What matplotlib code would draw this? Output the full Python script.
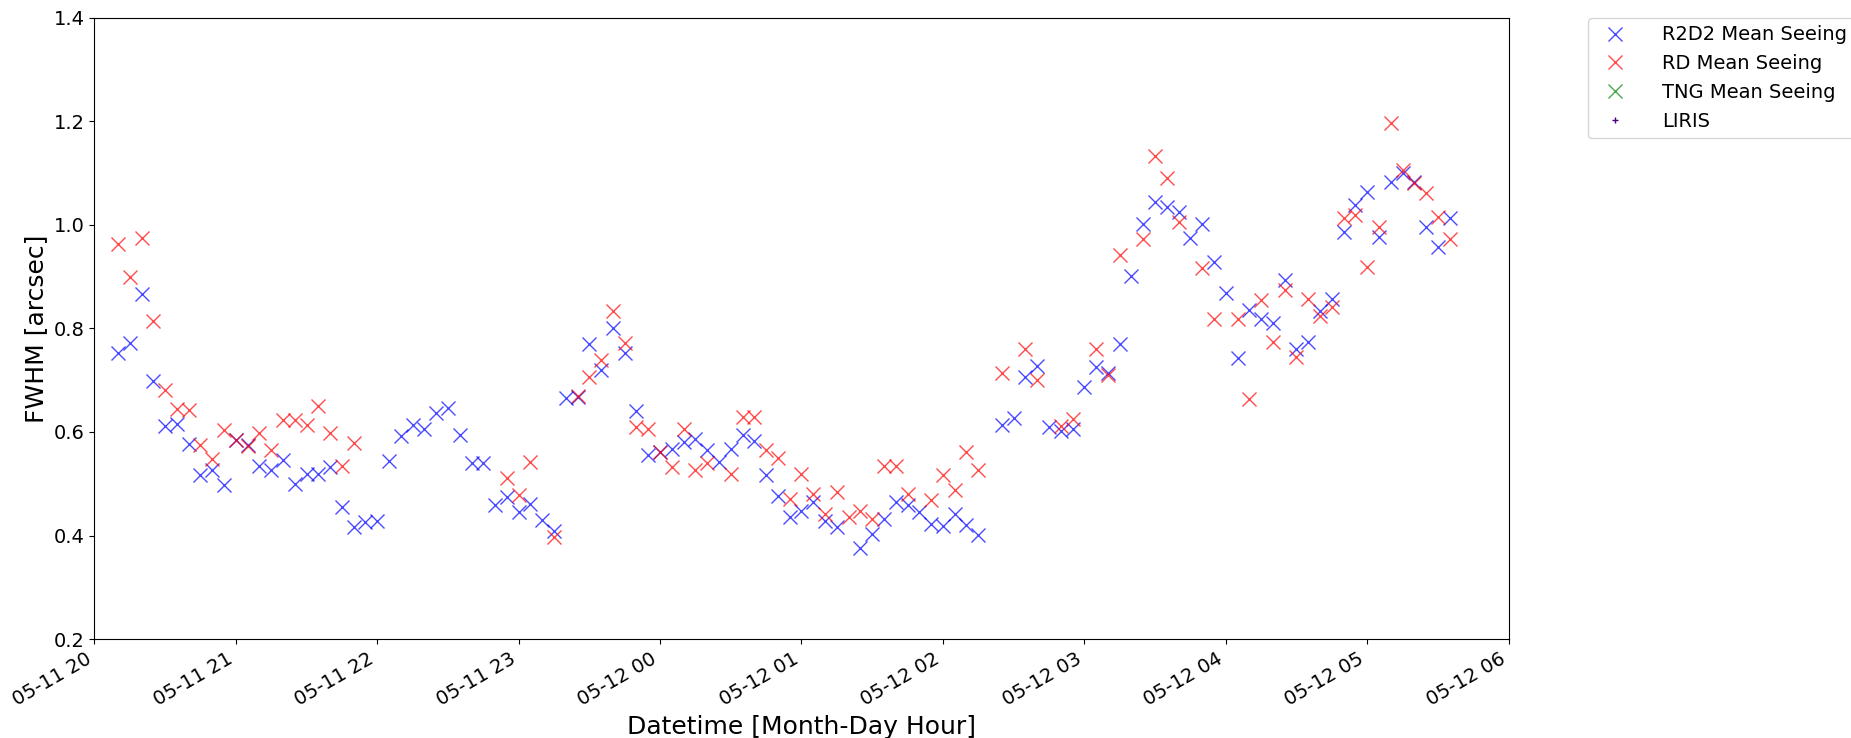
import numpy as np
import pandas as pd
import matplotlib
matplotlib.use('Agg')
import matplotlib.pyplot as plt
import matplotlib.dates as mdates

# minutes after 05-11 20:00
r2d2_min = [10, 15, 20, 25, 30, 35, 40, 45, 50, 55, 60, 65, 70, 75, 80, 85, 90, 95, 100,
            105, 110, 115, 120, 125, 130, 135, 140, 145, 150, 155, 160, 165, 170, 175, 180,
            185, 190, 195, 200, 205, 210, 215, 220, 225, 230, 235, 240, 245, 250, 255, 260,
            265, 270, 275, 280, 285, 290, 295, 300, 305, 310, 315, 325, 330, 335, 340, 345,
            350, 355, 360, 365, 370, 375, 385, 390, 395, 400, 405, 410, 415, 420, 425, 430,
            435, 440, 445, 450, 455, 460, 465, 470, 475, 480, 485, 490, 495, 500, 505, 510,
            515, 520, 525, 530, 535, 540, 545, 550, 555, 560, 565, 570, 575]
r2d2_fwhm = [0.752, 0.772, 0.866, 0.698, 0.611, 0.616, 0.577, 0.516, 0.527, 0.497, 0.584,
             0.574, 0.534, 0.526, 0.545, 0.499, 0.519, 0.519, 0.532, 0.455, 0.417, 0.426,
             0.428, 0.543, 0.592, 0.613, 0.606, 0.637, 0.646, 0.595, 0.540, 0.540, 0.459,
             0.475, 0.445, 0.460, 0.430, 0.408, 0.666, 0.668, 0.769, 0.719, 0.800, 0.753,
             0.640, 0.555, 0.561, 0.568, 0.581, 0.587, 0.565, 0.542, 0.568, 0.595, 0.582,
             0.516, 0.477, 0.435, 0.448, 0.465, 0.429, 0.416, 0.375, 0.403, 0.432, 0.465,
             0.459, 0.446, 0.423, 0.419, 0.442, 0.421, 0.402, 0.614, 0.627, 0.706, 0.727,
             0.610, 0.602, 0.606, 0.686, 0.726, 0.713, 0.769, 0.901, 1.002, 1.045, 1.035,
             1.025, 0.974, 1.001, 0.928, 0.868, 0.742, 0.835, 0.819, 0.811, 0.893, 0.761,
             0.774, 0.834, 0.856, 0.987, 1.038, 1.064, 0.976, 1.083, 1.101, 1.083, 0.995,
             0.958, 1.013]

rd_min = [10, 15, 20, 25, 30, 35, 40, 45, 50, 55, 60, 65, 70, 75, 80, 85, 90, 95, 100, 105,
          110, 175, 180, 185, 195, 205, 210, 215, 220, 225, 230, 235, 240, 245, 250, 255, 260,
          270, 275, 280, 285, 290, 295, 300, 305, 310, 315, 320, 325, 330, 335, 340, 345, 355,
          360, 365, 370, 375, 385, 395, 400, 410, 415, 425, 430, 435, 445, 450, 455, 460, 470,
          475, 485, 490, 495, 500, 505, 510, 515, 520, 525, 530, 535, 540, 545, 550, 555, 560,
          565, 570, 575]
rd_fwhm = [0.963, 0.900, 0.974, 0.815, 0.682, 0.645, 0.643, 0.575, 0.548, 0.603, 0.584, 0.573,
           0.598, 0.566, 0.624, 0.624, 0.613, 0.650, 0.598, 0.534, 0.579, 0.511, 0.479, 0.542,
           0.398, 0.670, 0.706, 0.739, 0.834, 0.771, 0.610, 0.605, 0.561, 0.532, 0.606, 0.527,
           0.540, 0.519, 0.628, 0.628, 0.566, 0.550, 0.471, 0.518, 0.481, 0.442, 0.484, 0.435,
           0.448, 0.432, 0.535, 0.534, 0.481, 0.469, 0.516, 0.487, 0.561, 0.527, 0.714, 0.761,
           0.701, 0.612, 0.626, 0.760, 0.710, 0.942, 0.972, 1.132, 1.090, 1.006, 0.916, 0.819,
           0.819, 0.663, 0.855, 0.774, 0.875, 0.745, 0.856, 0.823, 0.842, 1.013, 1.019, 0.918,
           0.996, 1.197, 1.106, 1.081, 1.061, 1.015, 0.972]

start = pd.Timestamp('2019-05-11 20:00')
t_r2d2 = start + pd.to_timedelta(r2d2_min, unit='min')
t_rd = start + pd.to_timedelta(rd_min, unit='min')

fig, ax = plt.subplots(figsize=(18.51, 7.38), dpi=100)
fig.subplots_adjust(left=0.051, right=0.815, bottom=0.134, top=0.976)

ax.plot(t_r2d2, r2d2_fwhm, 'bx', ms=10, alpha=0.7, label='R2D2 Mean Seeing')
ax.plot(t_rd, rd_fwhm, 'rx', ms=10, alpha=0.7, label='RD Mean Seeing')
ax.plot([], [], 'gx', ms=10, alpha=0.7, label='TNG Mean Seeing')
ax.plot([], [], '+', color='indigo', ms=5, label='LIRIS')

ax.set_xlim(start, start + pd.Timedelta(hours=10))
ax.set_ylim(0.2, 1.4)
ax.xaxis.set_major_locator(mdates.HourLocator())
ax.xaxis.set_major_formatter(mdates.DateFormatter('%m-%d %H'))
ax.tick_params(labelsize=14)
for lab in ax.get_xticklabels():
    lab.set_rotation(30)
    lab.set_ha('right')

ax.set_xlabel('Datetime [Month-Day Hour]', fontsize=18)
ax.set_ylabel('FWHM [arcsec]', fontsize=18)
ax.legend(loc='upper left', bbox_to_anchor=(1.056, 1), borderaxespad=0, fontsize=14,
          handletextpad=1.4)

fig.savefig('out.png', dpi=100)
